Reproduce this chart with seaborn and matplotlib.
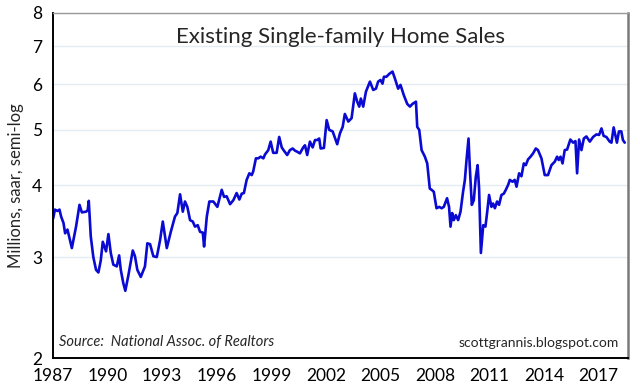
import numpy as np
import matplotlib
matplotlib.use("Agg")
import matplotlib.pyplot as plt
import seaborn as sns
from matplotlib.ticker import FixedLocator, NullFormatter, NullLocator

sns.set_style("white")
plt.rcParams["font.family"] = ["Lato", "DejaVu Sans"]

# Existing single-family home sales, millions (saar)
YEARS = [
    1987.0, 1987.1, 1987.24, 1987.35, 1987.44, 1987.57, 1987.66, 1987.79, 1988.03, 1988.26,
    1988.45, 1988.58, 1988.81, 1988.9, 1988.96, 1989.07, 1989.21, 1989.36, 1989.49, 1989.62,
    1989.73, 1989.91, 1990.04, 1990.17, 1990.31, 1990.5, 1990.63, 1990.72, 1990.86, 1990.97,
    1991.14, 1991.38, 1991.5, 1991.63, 1991.82, 1992.05, 1992.18, 1992.33, 1992.51, 1992.7,
    1992.88, 1993.03, 1993.25, 1993.47, 1993.7, 1993.83, 1993.98, 1994.13, 1994.25, 1994.38,
    1994.53, 1994.68, 1994.8, 1994.95, 1995.08, 1995.23, 1995.3, 1995.45, 1995.59,
    1995.63, 1995.81, 1996.03, 1996.27, 1996.4, 1996.54, 1996.73, 1996.91, 1997.09, 1997.24,
    1997.37, 1997.49, 1997.64, 1997.79, 1997.92, 1998.0, 1998.15, 1998.28, 1998.41, 1998.56,
    1998.65, 1998.83, 1998.96, 1999.1, 1999.29, 1999.43, 1999.57, 1999.69, 1999.87, 2000.02,
    2000.17, 2000.3, 2000.42, 2000.57, 2000.75, 2000.85, 2000.97, 2001.12, 2001.27, 2001.4,
    2001.52, 2001.63, 2001.71, 2001.89, 2002.04, 2002.18, 2002.37, 2002.62, 2002.77, 2002.92,
    2003.04, 2003.23, 2003.41, 2003.59, 2003.72, 2003.83, 2003.92,
    2004.05, 2004.2, 2004.42, 2004.6, 2004.75, 2004.87, 2005.0, 2005.11, 2005.19, 2005.33,
    2005.48, 2005.66, 2005.79, 2005.97, 2006.1, 2006.28, 2006.47, 2006.62, 2006.76, 2006.95,
    2007.02, 2007.13, 2007.26, 2007.44, 2007.57, 2007.71, 2007.81, 2007.93, 2008.08, 2008.23,
    2008.36, 2008.48, 2008.66, 2008.77, 2008.85, 2008.94, 2009.03, 2009.14, 2009.27, 2009.4,
    2009.54, 2009.64, 2009.73, 2009.84, 2009.91, 2010.02, 2010.13, 2010.24, 2010.34, 2010.42,
    2010.52, 2010.65, 2010.77, 2010.86, 2010.97, 2011.1, 2011.19, 2011.29, 2011.41, 2011.52,
    2011.65, 2011.78, 2011.89, 2012.02, 2012.11, 2012.26, 2012.38, 2012.48, 2012.62, 2012.75,
    2012.88, 2012.99, 2013.11, 2013.25, 2013.39, 2013.54, 2013.66, 2013.85, 2014.03, 2014.21,
    2014.4, 2014.58, 2014.71, 2014.8, 2014.9, 2015.01, 2015.13, 2015.26, 2015.44, 2015.59,
    2015.72, 2015.81, 2015.92, 2016.05, 2016.18, 2016.32, 2016.51, 2016.69, 2016.87, 2017.02,
    2017.15, 2017.27, 2017.42, 2017.6, 2017.7, 2017.82, 2017.93, 2018.0, 2018.11, 2018.24,
    2018.33, 2018.43,
]
SALES = [
    3.50, 3.63, 3.61, 3.63, 3.53, 3.44, 3.30, 3.35, 3.11, 3.39,
    3.70, 3.59, 3.60, 3.62, 3.76, 3.26, 3.00, 2.85, 2.82, 2.96,
    3.19, 3.07, 3.29, 3.05, 2.91, 2.89, 3.02, 2.85, 2.70, 2.62,
    2.79, 3.08, 3.01, 2.85, 2.77, 2.89, 3.17, 3.16, 3.01, 3.00,
    3.21, 3.46, 3.11, 3.32, 3.53, 3.58, 3.86, 3.60, 3.75, 3.67,
    3.48, 3.46, 3.39, 3.41, 3.32, 3.31, 3.13, 3.53, 3.75,
    3.75, 3.75, 3.67, 3.93, 3.82, 3.83, 3.71, 3.77, 3.88, 3.78,
    3.87, 3.88, 4.09, 4.20, 4.17, 4.23, 4.46, 4.46, 4.49, 4.46,
    4.53, 4.61, 4.77, 4.56, 4.56, 4.86, 4.66, 4.60, 4.52, 4.61,
    4.64, 4.60, 4.58, 4.55, 4.66, 4.70, 4.52, 4.77, 4.66, 4.80,
    4.80, 4.83, 4.64, 4.65, 5.20, 5.00, 4.97, 4.72, 4.93, 5.06,
    5.33, 5.17, 5.24, 5.79, 5.60, 5.49, 5.67,
    5.49, 5.83, 6.07, 5.87, 5.90, 6.07, 6.11, 6.02, 6.19, 6.19,
    6.26, 6.32, 6.15, 5.90, 5.99, 5.75, 5.55, 5.49, 5.55, 5.60,
    5.06, 5.00, 4.61, 4.49, 4.37, 3.95, 3.93, 3.90, 3.65, 3.67,
    3.65, 3.67, 3.80, 3.67, 3.39, 3.58, 3.48, 3.55, 3.48, 3.60,
    3.90, 4.09, 4.43, 4.83, 4.31, 3.70, 3.77, 4.14, 4.34, 3.96,
    3.05, 3.41, 3.39, 3.58, 3.85, 3.67, 3.72, 3.65, 3.75, 3.70,
    3.85, 3.87, 3.93, 4.01, 4.09, 4.06, 4.09, 3.98, 4.20, 4.15,
    4.37, 4.34, 4.44, 4.49, 4.55, 4.64, 4.61, 4.46, 4.17, 4.17,
    4.34, 4.40, 4.49, 4.43, 4.49, 4.37, 4.61, 4.62, 4.81, 4.75,
    4.78, 4.20, 4.81, 4.61, 4.83, 4.87, 4.77, 4.86, 4.91, 4.90,
    5.03, 4.88, 4.86, 4.77, 4.75, 5.05, 4.86, 4.75, 4.97, 4.97,
    4.80, 4.75,
]

Y_TICKS = [2, 3, 4, 5, 6, 7, 8]
X_TICKS = list(range(1987, 2018, 3))
X_MINOR = list(range(1987, 2019))

fig = plt.figure(figsize=(6.4, 3.9), dpi=100)
ax = fig.add_axes([0.083, 0.082, 0.898, 0.885])

sns.lineplot(x=YEARS, y=SALES, color="#0a0ad2", linewidth=1.9, ax=ax, sort=False)

ax.set_yscale("log")
ax.set_ylim(2, 8)
ax.set_xlim(1987, 2018.6)
ax.yaxis.set_major_locator(FixedLocator(Y_TICKS))
ax.yaxis.set_minor_locator(NullLocator())
ax.yaxis.set_minor_formatter(NullFormatter())
ax.set_yticklabels([str(t) for t in Y_TICKS])
ax.xaxis.set_major_locator(FixedLocator(X_TICKS))
ax.xaxis.set_minor_locator(FixedLocator(X_MINOR))
ax.set_xticklabels([str(t) for t in X_TICKS])

ax.grid(axis="y", color="#e3ecf3", linewidth=1.0)
ax.set_axisbelow(True)

ax.tick_params(axis="both", which="major", labelsize=12.5, colors="black", direction="out")
ax.tick_params(axis="y", which="major", length=4, width=0.8, color="#888888", pad=4)
ax.tick_params(axis="x", which="major", length=5, width=0.8, color="#444444", pad=2)
ax.tick_params(axis="x", which="minor", length=3, width=0.6, color="#666666")

for side in ("left", "bottom"):
    ax.spines[side].set_color("black")
    ax.spines[side].set_linewidth(1.4)
ax.spines["top"].set_color("#9a9a9a")
ax.spines["top"].set_linewidth(1.0)
ax.spines["right"].set_color("#7a7a7a")
ax.spines["right"].set_linewidth(1.8)

ax.set_ylabel("Millions, saar, semi-log", fontsize=12, labelpad=6)
ax.set_xlabel("")

ax.text(0.5, 0.96, "Existing Single-family Home Sales", transform=ax.transAxes,
        ha="center", va="top", fontsize=16)
ax.text(0.01, 0.025, "Source:  National Assoc. of Realtors", transform=ax.transAxes,
        ha="left", va="bottom", fontsize=10.5, style="italic")
ax.text(0.985, 0.025, "scottgrannis.blogspot.com", transform=ax.transAxes,
        ha="right", va="bottom", fontsize=10)

fig.savefig("out.png", dpi=100)
